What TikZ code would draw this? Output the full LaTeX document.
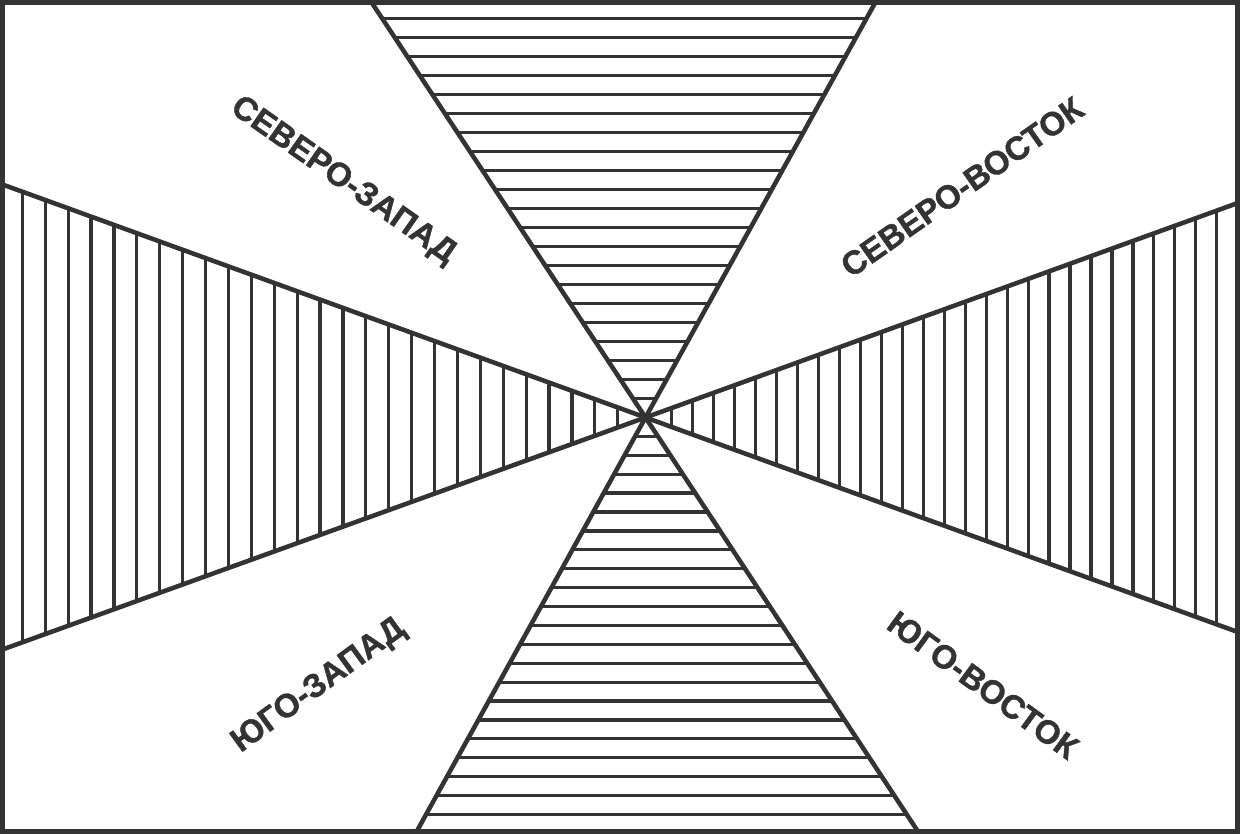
\documentclass[tikz,border=0pt]{standalone}
\usepackage{fontspec}
\setmainfont{Liberation Sans}
\newfontfamily\heavyfont[FakeBold=1.2]{Liberation Sans Bold}
\definecolor{ink}{HTML}{333333}
\begin{document}
\begin{tikzpicture}[x=0.75pt,y=-0.75pt,
  mainline/.style={draw=ink,line width=3.4pt},
  hatch/.style={draw=ink,line width=2.4pt},
  frame/.style={draw=ink,line width=3.75pt},
  label/.style={text=ink,font=\heavyfont\fontsize{24.75}{28}\selectfont,inner sep=0pt}]
\useasboundingbox (0,0) rectangle (1240,834);
\fill[white] (0,0) rectangle (1240,834);
\coordinate (C) at (645.5,417.5);
\coordinate (At) at (370,0);    \coordinate (Ab) at (919.6,834);
\coordinate (Bt) at (876.7,0);  \coordinate (Bb) at (415.3,834);
\coordinate (Cl) at (0,183.6);  \coordinate (Cr) at (1240,632.8);
\coordinate (Dl) at (0,650.4);  \coordinate (Dr) at (1240,202.2);
% top triangle hatch
\begin{scope}
\clip (C) -- (At) -- (Bt) -- cycle;
\foreach \k in {1,...,21} \draw[hatch] (300,{417.5-19*\k}) -- (950,{417.5-19*\k});
\end{scope}
% bottom triangle hatch
\begin{scope}
\clip (C) -- (Bb) -- (Ab) -- cycle;
\foreach \k in {1,...,21} \draw[hatch] (300,{417.5+18.9*\k}) -- (950,{417.5+18.9*\k});
\end{scope}
% left triangle hatch
\begin{scope}
\clip (C) -- (Cl) -- (Dl) -- cycle;
\foreach \k in {1,...,27} \draw[hatch] ({22.9*\k-0.6},150) -- ({22.9*\k-0.6},700);
\end{scope}
% right triangle hatch
\begin{scope}
\clip (C) -- (Dr) -- (Cr) -- cycle;
\foreach \k in {1,...,27} \draw[hatch] ({1237.7-20.96*\k},150) -- ({1237.7-20.96*\k},700);
\end{scope}
% main lines
\draw[mainline] (At) -- (C) -- (Ab);
\draw[mainline] (Bt) -- (C) -- (Bb);
\draw[mainline] (Cl) -- (C) -- (Cr);
\draw[mainline] (Dl) -- (C) -- (Dr);
% frame
\draw[frame] (2.5,2.5) rectangle (1237.5,831.5);
% labels
\node[label,rotate=-35] (nw) at (343,181) {СЕВЕРО-ЗАПАД};
\node[label,rotate=35] (ne) at (962,187) {СЕВЕРО-ВОСТОК};
\node[label,rotate=36] (sw) at (319,686) {ЮГО-ЗАПАД};
\node[label,rotate=-36] (se) at (983,685) {ЮГО-ВОСТОК};
\end{tikzpicture}
\end{document}
